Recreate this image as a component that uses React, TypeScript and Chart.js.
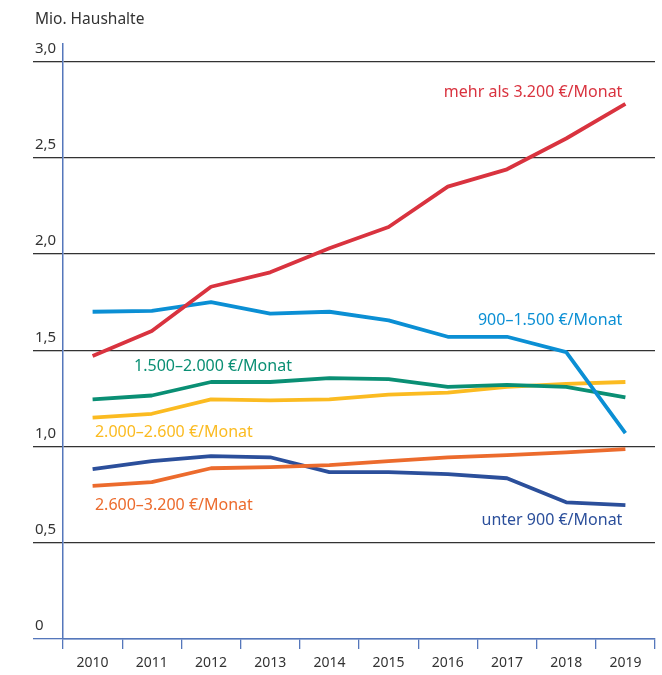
import React, { useEffect, useRef } from "react";
import { Chart, registerables } from "chart.js";

Chart.register(...registerables);

const years = ["2010", "2011", "2012", "2013", "2014", "2015", "2016", "2017", "2018", "2019"];

const mehrAls3200 = [1.47, 1.6, 1.83, 1.905, 2.03, 2.14, 2.35, 2.44, 2.6, 2.78];
const von900bis1500 = [1.7, 1.705, 1.75, 1.69, 1.7, 1.655, 1.57, 1.57, 1.49, 1.07];
const von1500bis2000 = [1.245, 1.265, 1.335, 1.335, 1.355, 1.35, 1.31, 1.32, 1.31, 1.255];
const von2000bis2600 = [1.15, 1.17, 1.245, 1.24, 1.245, 1.27, 1.28, 1.31, 1.325, 1.335];
const von2600bis3200 = [0.795, 0.815, 0.887, 0.893, 0.903, 0.924, 0.944, 0.955, 0.97, 0.986];
const unter900 = [0.882, 0.924, 0.95, 0.944, 0.867, 0.867, 0.856, 0.835, 0.71, 0.695];

const seriesNames = [
  "mehr als 3.200 €/Monat",
  "900–1.500 €/Monat",
  "1.500–2.000 €/Monat",
  "2.000–2.600 €/Monat",
  "2.600–3.200 €/Monat",
  "unter 900 €/Monat",
];

const yTickValues = [0, 0.5, 1, 1.5, 2, 2.5, 3];

const COLORS = ["#d9333f", "#0b8fd4", "#0a8f74", "#fbbb21", "#ec6b2d", "#2b4f9b"];
const AXIS_BLUE = "#5577bb";
const FONT = "'Noto Sans', sans-serif";

// label placement: [x in category units, y in value units, alignment]
const LABEL_POS: [number, number, CanvasTextAlign][] = [
  [9, 2.84, "right"],
  [9, 1.655, "right"],
  [0.7, 1.417, "left"],
  [0.04, 1.074, "left"],
  [0.04, 0.695, "left"],
  [9, 0.618, "right"],
];

const seriesLabelPlugin = {
  id: "seriesLabels",
  afterDatasetsDraw(chart: any) {
    const { ctx, scales } = chart;
    ctx.save();
    ctx.font = `16px ${FONT}`;
    ctx.textBaseline = "middle";
    seriesNames.forEach((name, i) => {
      const [xv, yv, align] = LABEL_POS[i];
      let x = scales.x.getPixelForValue(xv);
      if (align === "right") x -= 3;
      const y = scales.y.getPixelForValue(yv);
      ctx.fillStyle = COLORS[i];
      ctx.textAlign = align;
      ctx.fillText(name, x, y);
    });
    ctx.restore();
  },
};

export default function App() {
  const ref = useRef<HTMLCanvasElement>(null);
  useEffect(() => {
    const data = [mehrAls3200, von900bis1500, von1500bis2000, von2000bis2600, von2600bis3200, unter900];
    const chart = new Chart(ref.current!, {
      type: "line",
      data: {
        labels: years,
        datasets: data.map((d, i) => ({
          label: seriesNames[i],
          data: d,
          borderColor: COLORS[i],
          backgroundColor: COLORS[i],
          borderWidth: 3.8,
          pointRadius: 0,
          tension: 0,
          borderJoinStyle: "round" as const,
        })),
      },
      options: {
        animation: false,
        responsive: false,
        layout: { padding: { left: 35, right: 7, top: 0, bottom: 0 } },
        plugins: {
          legend: { display: false },
          tooltip: { enabled: false },
          title: {
            display: true,
            text: "Mio. Haushalte",
            align: "start",
            color: "#333",
            font: { family: FONT, size: 15.5, weight: "normal" },
            padding: { top: 10, bottom: 15 },
          },
        },
        scales: {
          x: {
            type: "category",
            offset: true,
            grid: {
              offset: true,
              drawOnChartArea: false,
              drawTicks: true,
              tickLength: 10,
              color: AXIS_BLUE,
              lineWidth: 1.3,
            },
            border: { display: true, color: AXIS_BLUE, width: 1.5 },
            ticks: { color: "#333", font: { family: FONT, size: 14 }, padding: 6, maxRotation: 0 },
            afterFit(scale: any) {
              scale.height = 36;
            },
          },
          y: {
            min: 0,
            max: 3.093,
            afterBuildTicks(scale: any) {
              scale.ticks = yTickValues.map((v) => ({ value: v }));
            },
            ticks: {
              stepSize: 0.5,
              includeBounds: false,
              labelOffset: -13,
              padding: 0,
              crossAlign: "far",
              color: "#333",
              font: { family: FONT, size: 15 },
              callback: (v: any) => (v === 0 ? "0" : Number(v).toFixed(1).replace(".", ",")),
            },
            grid: {
              color: (c: any) => (c.tick && c.tick.value === 0 ? AXIS_BLUE : "#333"),
              lineWidth: 1.3,
              tickLength: 30,
              drawTicks: true,
            },
            border: { display: true, color: AXIS_BLUE, width: 1.5 },
            afterFit(scale: any) {
              scale.width = 28;
            },
          },
        },
      },
      plugins: [seriesLabelPlugin],
    });
    return () => chart.destroy();
  }, []);
  return (
    <div style={{ position: "fixed", left: 0, top: 0, width: 662, height: 675, background: "#fff" }}>
      <canvas ref={ref} width={662} height={675} style={{ width: 662, height: 675 }} />
    </div>
  );
}
